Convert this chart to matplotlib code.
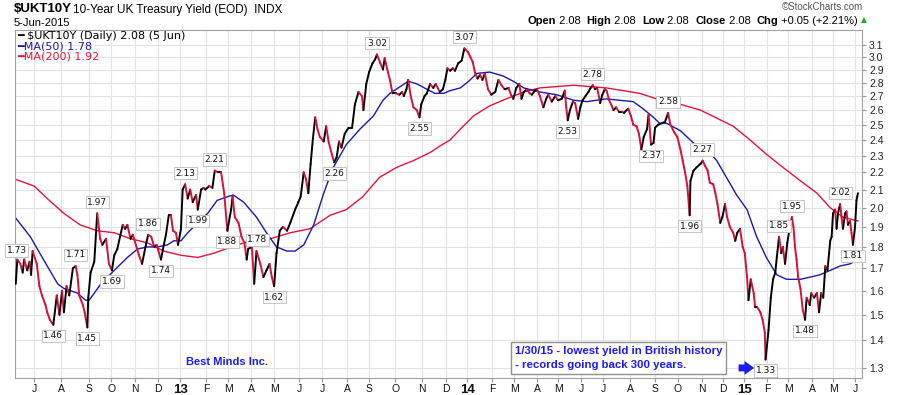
import matplotlib
matplotlib.use('Agg')
import matplotlib.pyplot as plt
import matplotlib.dates as mdates
from matplotlib.collections import LineCollection
from matplotlib.text import Annotation
import numpy as np
import pandas as pd

# ---------------------------------------------------------------- data
price_dates = [
    '2012-06-07', '2012-06-09', '2012-06-13', '2012-06-16', '2012-06-18', '2012-06-22', '2012-06-25', '2012-06-27', '2012-06-29',
    '2012-07-04', '2012-07-07', '2012-07-10', '2012-07-14', '2012-07-16', '2012-07-19', '2012-07-23', '2012-07-27', '2012-07-30',
    '2012-08-02', '2012-08-04', '2012-08-07', '2012-08-10', '2012-08-14', '2012-08-17', '2012-08-19', '2012-08-21', '2012-08-25',
    '2012-08-27', '2012-08-30', '2012-08-31',
    '2012-09-03', '2012-09-08', '2012-09-12', '2012-09-16', '2012-09-19', '2012-09-24', '2012-09-28',
    '2012-10-02', '2012-10-05', '2012-10-09', '2012-10-13', '2012-10-16', '2012-10-19', '2012-10-22', '2012-10-26', '2012-10-29',
    '2012-11-02', '2012-11-06', '2012-11-10', '2012-11-15', '2012-11-18', '2012-11-22', '2012-11-26', '2012-11-29',
    '2012-12-05', '2012-12-09', '2012-12-12', '2012-12-16', '2012-12-19', '2012-12-22', '2012-12-26', '2012-12-29',
    '2013-01-02', '2013-01-04', '2013-01-07', '2013-01-10', '2013-01-13', '2013-01-16', '2013-01-20', '2013-01-22', '2013-01-26',
    '2013-01-29', '2013-01-31',
    '2013-02-05', '2013-02-09', '2013-02-12', '2013-02-16', '2013-02-20', '2013-02-24', '2013-02-28',
    '2013-03-05', '2013-03-07', '2013-03-10', '2013-03-15', '2013-03-19', '2013-03-23', '2013-03-26', '2013-03-28',
    '2013-04-02', '2013-04-05', '2013-04-08', '2013-04-13', '2013-04-17', '2013-04-21', '2013-04-25', '2013-04-28',
    '2013-05-01', '2013-05-04', '2013-05-08', '2013-05-12', '2013-05-17', '2013-05-21', '2013-05-27', '2013-05-31',
    '2013-06-03', '2013-06-07', '2013-06-10', '2013-06-13', '2013-06-16', '2013-06-19', '2013-06-22', '2013-06-25', '2013-06-28',
    '2013-07-03', '2013-07-06', '2013-07-09', '2013-07-13', '2013-07-16', '2013-07-19', '2013-07-22', '2013-07-25', '2013-07-29',
    '2013-08-03', '2013-08-08', '2013-08-12', '2013-08-17', '2013-08-22', '2013-08-24', '2013-08-28',
    '2013-09-01', '2013-09-05', '2013-09-08', '2013-09-10', '2013-09-14', '2013-09-17', '2013-09-19', '2013-09-22', '2013-09-25',
    '2013-09-28',
    '2013-10-02', '2013-10-06', '2013-10-09', '2013-10-11', '2013-10-14', '2013-10-16', '2013-10-19', '2013-10-22', '2013-10-26',
    '2013-10-29', '2013-10-31',
    '2013-11-04', '2013-11-07', '2013-11-11', '2013-11-15', '2013-11-18', '2013-11-23', '2013-11-27', '2013-11-30',
    '2013-12-03', '2013-12-07', '2013-12-11', '2013-12-14', '2013-12-19', '2013-12-24', '2013-12-28',
    '2014-01-02', '2014-01-05', '2014-01-08', '2014-01-11', '2014-01-14', '2014-01-17', '2014-01-20', '2014-01-23', '2014-01-27',
    '2014-01-31',
    '2014-02-05', '2014-02-09', '2014-02-13', '2014-02-17', '2014-02-22', '2014-02-25', '2014-02-28',
    '2014-03-04', '2014-03-08', '2014-03-11', '2014-03-14', '2014-03-18', '2014-03-22', '2014-03-25', '2014-03-29',
    '2014-04-01', '2014-04-05', '2014-04-10', '2014-04-14', '2014-04-17', '2014-04-22', '2014-04-27',
    '2014-05-01', '2014-05-06', '2014-05-10', '2014-05-12', '2014-05-14', '2014-05-17', '2014-05-21', '2014-05-24', '2014-05-28',
    '2014-05-31',
    '2014-06-03', '2014-06-07', '2014-06-11', '2014-06-14', '2014-06-17', '2014-06-20', '2014-06-23', '2014-06-27', '2014-06-30',
    '2014-07-03', '2014-07-05', '2014-07-08', '2014-07-11', '2014-07-13', '2014-07-16', '2014-07-19', '2014-07-23', '2014-07-25',
    '2014-07-28', '2014-07-30',
    '2014-08-02', '2014-08-05', '2014-08-09', '2014-08-12', '2014-08-15', '2014-08-18', '2014-08-22', '2014-08-24', '2014-08-27',
    '2014-08-30',
    '2014-09-01', '2014-09-05', '2014-09-10', '2014-09-14', '2014-09-18', '2014-09-21', '2014-09-26', '2014-09-30',
    '2014-10-04', '2014-10-07', '2014-10-10', '2014-10-13', '2014-10-16', '2014-10-17', '2014-10-21', '2014-10-25', '2014-10-30',
    '2014-11-02', '2014-11-05', '2014-11-09', '2014-11-12', '2014-11-17', '2014-11-20', '2014-11-23', '2014-11-27', '2014-11-30',
    '2014-12-04', '2014-12-07', '2014-12-11', '2014-12-16', '2014-12-19', '2014-12-22', '2014-12-26', '2014-12-30',
    '2015-01-02', '2015-01-05', '2015-01-07', '2015-01-10', '2015-01-14', '2015-01-16', '2015-01-19', '2015-01-23', '2015-01-26',
    '2015-01-29', '2015-01-30',
    '2015-02-03', '2015-02-06', '2015-02-09', '2015-02-12', '2015-02-14', '2015-02-17', '2015-02-20', '2015-02-22', '2015-02-25',
    '2015-02-28',
    '2015-03-03', '2015-03-06', '2015-03-08', '2015-03-10', '2015-03-12', '2015-03-14', '2015-03-17', '2015-03-20', '2015-03-23',
    '2015-03-25', '2015-03-29', '2015-03-31',
    '2015-04-04', '2015-04-08', '2015-04-11', '2015-04-14', '2015-04-17', '2015-04-20', '2015-04-23', '2015-04-27', '2015-04-29',
    '2015-05-01', '2015-05-04', '2015-05-06', '2015-05-08', '2015-05-11', '2015-05-13', '2015-05-15', '2015-05-18', '2015-05-20',
    '2015-05-22', '2015-05-25', '2015-05-27', '2015-05-29',
    '2015-06-01', '2015-06-03', '2015-06-04', '2015-06-05',
]
price_vals = [
    1.63, 1.74, 1.72, 1.68, 1.74, 1.69, 1.73, 1.67, 1.78,
    1.72, 1.62, 1.58, 1.54, 1.51, 1.48, 1.46, 1.58, 1.50,
    1.60, 1.51, 1.62, 1.58, 1.70, 1.71, 1.67, 1.58, 1.54,
    1.51, 1.45, 1.57,
    1.68, 1.73, 1.97, 1.84, 1.81, 1.84, 1.72,
    1.69, 1.76, 1.79, 1.86, 1.91, 1.89, 1.91, 1.84, 1.86,
    1.81, 1.76, 1.72, 1.81, 1.86, 1.85, 1.80, 1.81,
    1.74, 1.81, 1.86, 1.96, 1.96, 1.88, 1.87, 1.81,
    1.89, 2.10, 2.13, 2.05, 2.10, 2.03, 2.07, 1.99, 2.10,
    2.11, 2.10,
    2.12, 2.11, 2.21, 2.20, 2.20, 2.08, 1.88,
    1.99, 2.06, 1.95, 1.92, 1.85, 1.82, 1.74, 1.79,
    1.80, 1.63, 1.78, 1.72, 1.66, 1.69, 1.72, 1.66,
    1.62, 1.77, 1.88, 1.90, 1.88, 1.92, 1.99, 2.03,
    2.06, 2.20, 2.16, 2.08, 2.25, 2.41, 2.55, 2.47, 2.42,
    2.39, 2.49, 2.39, 2.31, 2.26, 2.29, 2.39, 2.35, 2.44,
    2.48, 2.48, 2.64, 2.73, 2.70, 2.60, 2.79,
    2.88, 2.95, 2.98, 3.02, 2.95, 2.90, 2.99, 2.90, 2.82,
    2.72,
    2.72, 2.71, 2.73, 2.70, 2.75, 2.82, 2.70, 2.62, 2.60,
    2.55, 2.64,
    2.70, 2.72, 2.79, 2.76, 2.79, 2.73, 2.75, 2.82,
    2.91, 2.89, 2.91, 2.89, 2.95, 2.97, 3.07,
    3.04, 3.00, 2.96, 2.87, 2.83, 2.86, 2.82, 2.87, 2.75,
    2.71,
    2.73, 2.82, 2.78, 2.75, 2.76, 2.71, 2.68,
    2.76, 2.79, 2.68, 2.73, 2.75, 2.72, 2.71, 2.74,
    2.75, 2.70, 2.62, 2.68, 2.71, 2.66, 2.70,
    2.67, 2.68, 2.74, 2.62, 2.53, 2.60, 2.66, 2.65, 2.54,
    2.62,
    2.67, 2.70, 2.73, 2.76, 2.78, 2.75, 2.76, 2.65, 2.71,
    2.75, 2.74, 2.67, 2.63, 2.60, 2.62, 2.59, 2.59, 2.58,
    2.60, 2.61,
    2.56, 2.50, 2.49, 2.44, 2.34, 2.42, 2.47, 2.57, 2.37,
    2.38,
    2.48, 2.50, 2.51, 2.52, 2.58, 2.50, 2.45, 2.42,
    2.34, 2.27, 2.20, 2.12, 1.96, 2.15, 2.21, 2.23, 2.25,
    2.27, 2.24, 2.21, 2.14, 2.13, 2.08, 2.02, 1.92, 1.95,
    2.02, 1.95, 1.90, 1.87, 1.83, 1.87, 1.89, 1.80,
    1.77, 1.66, 1.56, 1.65, 1.59, 1.53, 1.53, 1.51, 1.48,
    1.43, 1.33,
    1.44, 1.57, 1.65, 1.68, 1.75, 1.85, 1.77, 1.80, 1.72,
    1.82,
    1.89, 1.95, 1.90, 1.80, 1.74, 1.66, 1.61, 1.52, 1.48,
    1.57, 1.54, 1.59,
    1.57, 1.59, 1.51, 1.59, 1.57, 1.71, 1.69, 1.83, 1.85,
    1.97, 1.99, 1.89, 1.97, 2.02, 1.95, 1.89, 1.97, 1.98,
    1.91, 1.93, 1.87, 1.81,
    1.90, 2.04, 2.06, 2.08,
]

ma50_dates = [
    '2012-06-06', '2012-06-26', '2012-07-16', '2012-07-28', '2012-08-04', '2012-08-19', '2012-08-28', '2012-09-01',
    '2012-09-08', '2012-09-17', '2012-10-05', '2012-10-22', '2012-11-04', '2012-11-17', '2012-11-30', '2012-12-14',
    '2012-12-23', '2013-01-02', '2013-01-10', '2013-01-22', '2013-02-03', '2013-02-15', '2013-02-28', '2013-03-08',
    '2013-03-22', '2013-04-08', '2013-04-21', '2013-05-04', '2013-05-17', '2013-05-27', '2013-06-07', '2013-06-20',
    '2013-07-03', '2013-07-15', '2013-07-31', '2013-08-19', '2013-09-06', '2013-09-17', '2013-09-25', '2013-10-07',
    '2013-10-16', '2013-10-26', '2013-11-07', '2013-11-17', '2013-11-28', '2013-12-07', '2013-12-22', '2014-01-03',
    '2014-01-13', '2014-01-29', '2014-02-15', '2014-02-28', '2014-03-14', '2014-04-05', '2014-04-29', '2014-05-22',
    '2014-06-09', '2014-06-22', '2014-07-05', '2014-07-20', '2014-08-05', '2014-08-17', '2014-08-30', '2014-09-07',
    '2014-09-16', '2014-10-04', '2014-10-21', '2014-11-08', '2014-11-22', '2014-12-06', '2014-12-21', '2015-01-05',
    '2015-01-18', '2015-01-31', '2015-02-14', '2015-02-27', '2015-03-17', '2015-03-30', '2015-04-12', '2015-04-27',
    '2015-05-11', '2015-05-25', '2015-06-05',
]
ma50_vals = [
    1.95, 1.85, 1.71, 1.63, 1.61, 1.59, 1.56, 1.56,
    1.59, 1.63, 1.69, 1.75, 1.79, 1.80, 1.80, 1.81,
    1.83, 1.83, 1.87, 1.92, 1.97, 2.04, 2.06, 2.07,
    2.03, 1.95, 1.87, 1.80, 1.78, 1.78, 1.81, 1.91,
    2.08, 2.23, 2.37, 2.47, 2.56, 2.67, 2.72, 2.77,
    2.81, 2.79, 2.75, 2.72, 2.72, 2.74, 2.76, 2.81,
    2.87, 2.88, 2.85, 2.81, 2.76, 2.73, 2.71, 2.67,
    2.66, 2.67, 2.68, 2.67, 2.66, 2.61, 2.55, 2.51,
    2.51, 2.46, 2.38, 2.34, 2.27, 2.17, 2.07, 1.99,
    1.85, 1.75, 1.67, 1.65, 1.65, 1.66, 1.67, 1.69,
    1.71, 1.72, 1.74,
]

ma200_dates = [
    '2012-06-06', '2012-07-01', '2012-07-16', '2012-08-04', '2012-08-22', '2012-09-12', '2012-10-05', '2012-10-26',
    '2012-11-17', '2012-12-09', '2013-01-02', '2013-01-22', '2013-02-11', '2013-03-05', '2013-03-31', '2013-04-26',
    '2013-05-21', '2013-06-15', '2013-07-11', '2013-07-31', '2013-08-23', '2013-09-13', '2013-10-03', '2013-10-22',
    '2013-11-11', '2013-11-23', '2013-12-07', '2013-12-22', '2014-01-09', '2014-01-29', '2014-02-19', '2014-03-14',
    '2014-04-05', '2014-04-29', '2014-05-22', '2014-06-13', '2014-07-05', '2014-07-24', '2014-08-13', '2014-09-03',
    '2014-09-16', '2014-10-30', '2014-12-16', '2015-01-09', '2015-01-31', '2015-02-22', '2015-03-17', '2015-04-08',
    '2015-04-27', '2015-05-15', '2015-06-05',
]
ma200_vals = [
    2.16, 2.12, 2.05, 1.97, 1.91, 1.88, 1.87, 1.84,
    1.82, 1.78, 1.76, 1.75, 1.77, 1.80, 1.83, 1.84,
    1.87, 1.89, 1.96, 1.99, 2.06, 2.17, 2.23, 2.27,
    2.32, 2.36, 2.40, 2.47, 2.56, 2.63, 2.68, 2.73,
    2.76, 2.77, 2.78, 2.77, 2.76, 2.74, 2.72, 2.68,
    2.67, 2.60, 2.49, 2.40, 2.31, 2.23, 2.15, 2.08,
    2.00, 1.95, 1.93,
]

# labelled highs / lows: date, value, tag above (1) or below (0)
lbl_dates = ['2012-06-08', '2012-07-23', '2012-08-17', '2012-08-30', '2012-09-12', '2012-10-02', '2012-11-18',
             '2012-12-05', '2013-01-07', '2013-01-22', '2013-02-12', '2013-02-28', '2013-04-09', '2013-05-01',
             '2013-07-16', '2013-09-10', '2013-10-29', '2013-12-28', '2014-05-14', '2014-06-17', '2014-08-27',
             '2014-09-18', '2014-10-16', '2014-11-01', '2015-01-30', '2015-02-17', '2015-03-06', '2015-03-23',
             '2015-05-11', '2015-05-29']
lbl_vals = [1.73, 1.46, 1.71, 1.45, 1.97, 1.69, 1.86, 1.74, 2.13, 1.99, 2.21, 1.88, 1.78, 1.62, 2.26, 3.02, 2.55,
            3.07, 2.53, 2.78, 2.37, 2.58, 1.96, 2.27, 1.33, 1.85, 1.95, 1.48, 2.02, 1.81]
lbl_up = [1, 0, 1, 0, 1, 0, 1, 0, 1, 0, 1, 0, 1, 0, 0, 1, 0, 1, 0, 1, 0, 1, 0, 1, 0, 1, 1, 0, 1, 0]

# trading-day axis: relative width of each month, Jun 2012 .. Jun 2015
month_width = [23, 27, 28, 22, 24, 23, 22,
               26, 22, 23, 23, 25, 23, 25, 22, 26, 27, 24, 21,
               25, 22, 23, 21, 23, 22, 27, 25, 23, 24, 21, 21,
               23, 21, 24, 21, 22, 22]

y_ticks = [1.3, 1.4, 1.5, 1.6, 1.7, 1.8, 1.9, 2.0, 2.1, 2.2, 2.3, 2.4, 2.5, 2.6, 2.7, 2.8, 2.9, 3.0, 3.1]
month_ticks = pd.date_range('2012-07-01', '2015-06-01', freq='MS')
month_labels = ['J', 'A', 'S', 'O', 'N', 'D',
                '13', 'F', 'M', 'A', 'M', 'J', 'J', 'A', 'S', 'O', 'N', 'D',
                '14', 'F', 'M', 'A', 'M', 'J', 'J', 'A', 'S', 'O', 'N', 'D',
                '15', 'F', 'M', 'A', 'M', 'J']

UP_COL = 'black'
DN_COL = '#d4103c'
BLUE = '#1a1aa6'
RED = '#e0143c'
NOTE = '#1a1aff'
W, H = 898, 395

# month edges -> cumulative position, used as a piecewise trading-day scale
edge_num = mdates.date2num(pd.date_range('2012-06-01', '2015-07-01', freq='MS'))
edge_pos = np.concatenate([[0.0], np.cumsum(month_width)])


def fwd(v):
    return np.interp(v, edge_num, edge_pos)


def inv(p):
    return np.interp(p, edge_pos, edge_num)


# ---------------------------------------------------------------- figure
fig = plt.figure(figsize=(W / 100, H / 100), dpi=100)
ax = fig.add_axes([15 / W, 1 - 378 / H, (862 - 15) / W, (378 - 30) / H])

ax.plot(pd.to_datetime(ma200_dates), ma200_vals, color=RED, lw=1.0, zorder=2)
ax.plot(pd.to_datetime(ma50_dates), ma50_vals, color=BLUE, lw=1.0, zorder=2)

# price line, black on up moves, red on down moves
px = mdates.date2num(pd.to_datetime(price_dates))
py = np.array(price_vals)
segs = np.stack([np.column_stack([px[:-1], py[:-1]]), np.column_stack([px[1:], py[1:]])], axis=1)
cols = [UP_COL if py[i + 1] >= py[i] else DN_COL for i in range(len(py) - 1)]
ax.add_collection(LineCollection(segs, colors=cols, linewidths=1.4, zorder=3, capstyle='round'))

ax.set_xscale('function', functions=(fwd, inv))
ax.set_yscale('log')
ax.set_ylim(1.2655, 3.225)
ax.set_xlim(pd.Timestamp('2012-06-06'), pd.Timestamp('2015-06-10 12:00'))

ax.yaxis.tick_right()
ax.set_yticks(y_ticks, labels=[f'{v:.1f}' for v in y_ticks])
ax.minorticks_off()
ax.set_xticks(mdates.date2num(month_ticks), labels=month_labels)
for t in ax.get_xticklabels():
    if t.get_text().isdigit():
        t.set_fontweight('bold')
        t.set_fontsize(9.5)
    else:
        t.set_fontsize(7.5)
    t.set_family('Liberation Sans')
ax.tick_params(axis='y', labelsize=7.5, length=3, pad=2, color='#999999', labelcolor='#222222')
ax.tick_params(axis='x', length=3, pad=1, color='#999999', labelcolor='#111111')
for t in ax.get_yticklabels():
    t.set_family('Liberation Sans')

ax.grid(True, color='#e2e2e2', lw=0.8)
ax.set_axisbelow(True)
for s in ax.spines.values():
    s.set_color('#a0a0a0')
    s.set_linewidth(0.8)

# value tags on highs and lows
for d, v, up in zip(lbl_dates, lbl_vals, lbl_up):
    ax.annotate(f'{v:.2f}', xy=(mdates.date2num(pd.Timestamp(d)), v),
                xytext=(0, 8 if up else -8), textcoords='offset points',
                ha='center', va='center', fontsize=6.5, color='#111111', zorder=6,
                bbox=dict(boxstyle='square,pad=0.18', fc='white', ec='#c4c4c4', lw=0.7),
                annotation_clip=False)

# legend
ax.text(0.002, 0.997, '━ $UKT10Y (Daily) 2.08 (5 Jun)', transform=ax.transAxes, fontsize=8,
        color='black', va='top', ha='left')
ax.text(0.002, 0.968, '━MA(50) 1.78', transform=ax.transAxes, fontsize=8, color=BLUE, va='top', ha='left')
ax.text(0.002, 0.937, '━MA(200) 1.92', transform=ax.transAxes, fontsize=8, color=RED, va='top', ha='left')

# notes
ax.text(0.202, 0.046, 'Best Minds Inc.', transform=ax.transAxes, fontsize=8, fontweight='bold',
        color=NOTE, family='Liberation Sans', va='center', ha='left')
ax.text(0.590, 0.058, '1/30/15 - lowest yield in British history\n- records going back 300 years.',
        transform=ax.transAxes, fontsize=8.2, fontweight='bold', color=NOTE, family='Liberation Sans',
        va='center', ha='left', linespacing=1.55, zorder=7,
        bbox=dict(boxstyle='square,pad=0.35', fc='white', ec='#909090', lw=1))
ax.annotate('', xy=(0.876, 0.029), xytext=(0.851, 0.029), xycoords='axes fraction',
            arrowprops=dict(arrowstyle='simple,head_width=1.0,head_length=0.7,tail_width=0.5',
                            color=NOTE, lw=0), zorder=7)

# header
fig.text(14 / W, 1 - 9 / H, '$UKT10Y', fontsize=9.5, fontweight='bold', family='Liberation Sans', va='center')
fig.text(73 / W, 1 - 9.5 / H, '10-Year UK Treasury Yield (EOD)  INDX', fontsize=8.5,
         family='Liberation Sans', va='center')
fig.text(14 / W, 1 - 22.5 / H, '5-Jun-2015', fontsize=8, family='Liberation Sans', va='center')
fig.text(863 / W, 1 - 7 / H, '©StockCharts.com', fontsize=7, color='#555555', family='Liberation Sans',
         va='center', ha='right')

pieces = [('Open', 'bold'), (' 2.08  ', 'normal'), ('High', 'bold'), (' 2.08  ', 'normal'),
          ('Low', 'bold'), (' 2.08  ', 'normal'), ('Close', 'bold'), (' 2.08  ', 'normal'),
          ('Chg', 'bold'), (' +0.05 (+2.21%) ', 'normal')]
anchor = fig.text(527 / W, 1 - 21 / H, pieces[0][0], fontsize=8, fontweight=pieces[0][1],
                  family='Liberation Sans', va='center')
for txt, wt in pieces[1:]:
    anchor = fig.add_artist(Annotation(txt, xy=(1, 0), xycoords=anchor, va='bottom', ha='left',
                                       fontsize=8, fontweight=wt, family='Liberation Sans'))
fig.add_artist(Annotation('▲', xy=(1, 0.15), xycoords=anchor, va='bottom', ha='left',
                          fontsize=5.5, color='#22aa22'))

fig.savefig('out.png', dpi=100)
